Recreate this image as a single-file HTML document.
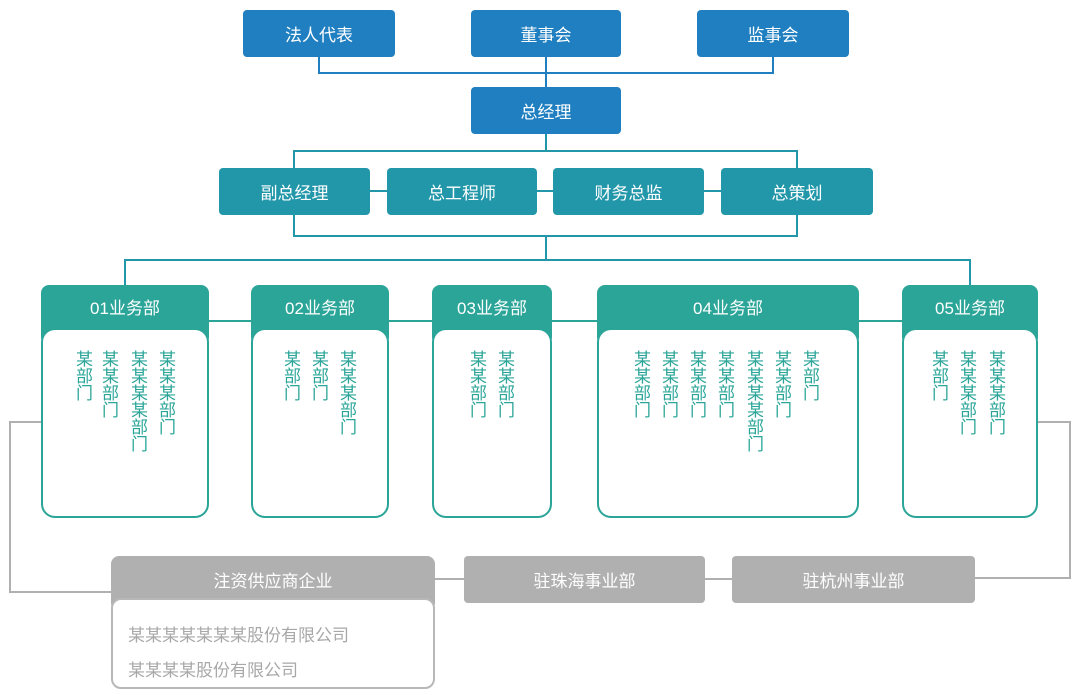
<!DOCTYPE html>
<html><head><meta charset="utf-8"><style>
body{margin:0;width:1080px;height:699px;background:#fff;position:relative;overflow:hidden;font-family:"Liberation Sans","Noto Sans CJK SC",sans-serif}
.b{position:absolute;color:#fff;font-size:17px;display:flex;align-items:center;justify-content:center;border-radius:4px;box-sizing:border-box}
.blue{background:#1f7fc0}
.teal{background:#2397aa}
.dh{position:absolute;background:#2aa598;border-radius:8px;color:#fff;font-size:17px;text-align:center;box-sizing:border-box;padding-top:9px}
.db{position:absolute;background:#fff;border:2px solid #2aa598;border-radius:14px;box-sizing:border-box}
.v{position:absolute;top:350px;writing-mode:vertical-rl;font-size:17px;color:#2aa598;line-height:18px;letter-spacing:0px;width:18px}
.gray{background:#b0b0b0}
</style></head><body>
<svg style="position:absolute;left:0;top:0" width="1080" height="699">
<g stroke="#1f7fc0" stroke-width="2" fill="none">
<path d="M319 57V73H773V57M546 57V87"/>
</g>
<g stroke="#2397aa" stroke-width="2" fill="none">
<path d="M546 134V151H294V168M546 151H797V168M294 215V236H797V215M370 191H387M537 191H553M704 191H721M546 236V260H125V285M546 260H970V285"/>
</g>
<g stroke="#2aa598" stroke-width="2" fill="none">
<path d="M209 321H251M389 321H432M552 321H597M859 321H902"/>
</g>
<g stroke="#b0b0b0" stroke-width="2" fill="none">
<path d="M41 422H10V592H111M435 579H464M705 579H732M975 578H1070V422H1038"/>
</g>
</svg>
<div class="b blue" style="left:243px;top:10px;width:152px;height:47px">法人代表</div>
<div class="b blue" style="left:471px;top:10px;width:150px;height:47px">董事会</div>
<div class="b blue" style="left:697px;top:10px;width:152px;height:47px">监事会</div>
<div class="b blue" style="left:471px;top:87px;width:150px;height:47px">总经理</div>
<div class="b teal" style="left:219px;top:168px;width:151px;height:47px">副总经理</div>
<div class="b teal" style="left:387px;top:168px;width:150px;height:47px">总工程师</div>
<div class="b teal" style="left:553px;top:168px;width:151px;height:47px">财务总监</div>
<div class="b teal" style="left:721px;top:168px;width:152px;height:47px">总策划</div>

<div class="dh" style="left:41px;top:285px;width:168px;height:60px">01业务部</div>
<div class="db" style="left:41px;top:328px;width:168px;height:190px"></div>
<div class="dh" style="left:251px;top:285px;width:138px;height:60px">02业务部</div>
<div class="db" style="left:251px;top:328px;width:138px;height:190px"></div>
<div class="dh" style="left:432px;top:285px;width:120px;height:60px">03业务部</div>
<div class="db" style="left:432px;top:328px;width:120px;height:190px"></div>
<div class="dh" style="left:597px;top:285px;width:262px;height:60px">04业务部</div>
<div class="db" style="left:597px;top:328px;width:262px;height:190px"></div>
<div class="dh" style="left:902px;top:285px;width:136px;height:60px">05业务部</div>
<div class="db" style="left:902px;top:328px;width:136px;height:190px"></div>

<div class="v" style="left:73px">某部门</div>
<div class="v" style="left:99px">某某部门</div>
<div class="v" style="left:128px">某某某某部门</div>
<div class="v" style="left:156px">某某某部门</div>
<div class="v" style="left:281px">某部门</div>
<div class="v" style="left:309px">某部门</div>
<div class="v" style="left:337px">某某某部门</div>
<div class="v" style="left:467px">某某部门</div>
<div class="v" style="left:495px">某某部门</div>
<div class="v" style="left:631px">某某部门</div>
<div class="v" style="left:659px">某某部门</div>
<div class="v" style="left:687px">某某部门</div>
<div class="v" style="left:715px">某某部门</div>
<div class="v" style="left:744px">某某某某部门</div>
<div class="v" style="left:772px">某某部门</div>
<div class="v" style="left:800px">某部门</div>
<div class="v" style="left:929px">某部门</div>
<div class="v" style="left:957px">某某某部门</div>
<div class="v" style="left:986px">某某某部门</div>

<div class="dh gray" style="left:111px;top:556px;width:324px;height:55px;padding-top:11px">注资供应商企业</div>
<div style="position:absolute;left:111px;top:598px;width:324px;height:91px;box-sizing:border-box;border:2px solid #b8b8b8;border-radius:10px;background:#fff;color:#a8a8a8;font-size:17px;padding:18px 0 0 15px;line-height:35px">某某某某某某某股份有限公司<br>某某某某股份有限公司</div>
<div class="b gray" style="left:464px;top:556px;width:241px;height:47px">驻珠海事业部</div>
<div class="b gray" style="left:732px;top:556px;width:243px;height:47px">驻杭州事业部</div>
</body></html>
